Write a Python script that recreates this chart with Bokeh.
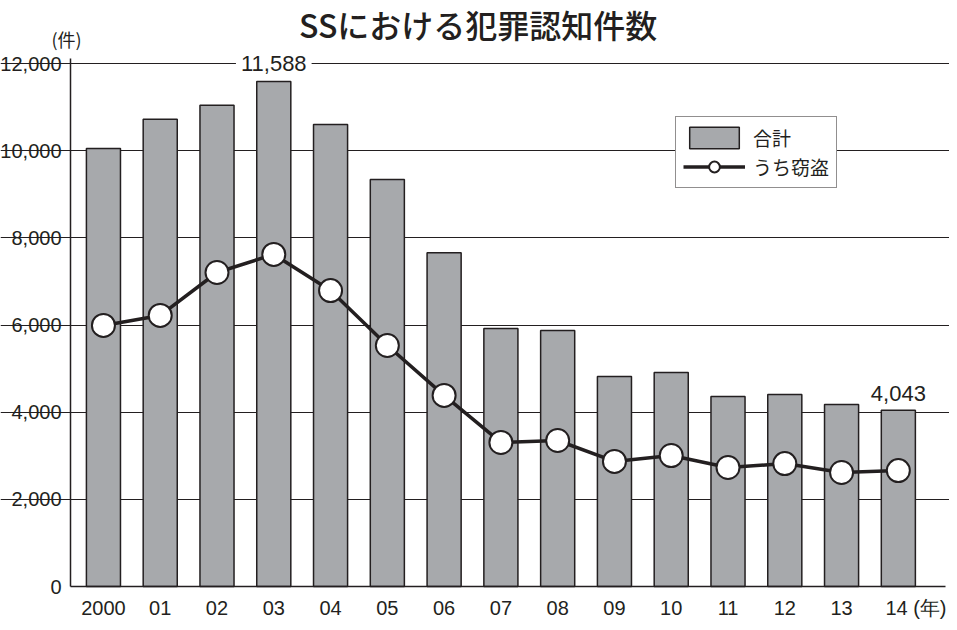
from bokeh.plotting import figure
from bokeh.models import (FixedTicker, NumeralTickFormatter, Label, Legend, LegendItem,
                          ColumnDataSource, Range1d)
from bokeh.core.properties import value
from bokeh.embed import file_html
from bokeh.resources import INLINE

# ---- data ----
years = ["2000", "01", "02", "03", "04", "05", "06", "07", "08", "09", "10", "11", "12", "13", "14"]
total = [10050, 10720, 11040, 11588, 10600, 9340, 7660, 5920, 5875, 4820, 4910, 4360, 4405, 4175, 4043]
theft = [5990, 6220, 7205, 7620, 6790, 5530, 4385, 3305, 3350, 2870, 3005, 2730, 2820, 2615, 2660]
y_ticks = [0, 2000, 4000, 6000, 8000, 10000, 12000]

INK = "#231f20"
BAR = "#a7a9ac"
NUM_FONT = "Liberation Sans"
JP_FONT = "Noto Sans CJK JP"
JP_MED = "'Noto Sans CJK JP Medium', 'Noto Sans CJK JP'"

X0, X1 = -0.58, 14.83          # visible category span (axis / grid extent)
xs = list(range(len(years)))
src = ColumnDataSource(dict(x=xs, total=total, theft=theft))

p = figure(frame_width=949, frame_height=622, output_backend="svg", toolbar_location=None,
           x_range=Range1d(-1.813, 14.901), y_range=Range1d(-826, 13446),
           min_border_left=0, min_border_right=0, min_border_top=0, min_border_bottom=0)
p.outline_line_color = None
p.background_fill_color = "white"

# y axis drawn at the left end of the category span
p.yaxis.fixed_location = X0
p.yaxis.bounds = (0, 12115)
p.yaxis.ticker = FixedTicker(ticks=y_ticks)
p.yaxis.formatter = NumeralTickFormatter(format="0,0")
p.yaxis.major_tick_line_color = None
p.yaxis.minor_tick_line_color = None
p.yaxis.major_tick_out = 0
p.yaxis.axis_line_color = INK
p.yaxis.axis_line_width = 1.5
p.yaxis.major_label_text_font = NUM_FONT
p.yaxis.major_label_text_font_size = "20px"
p.yaxis.major_label_text_color = INK
p.yaxis.major_label_standoff = 9

# x axis drawn at y = 0
last = len(years) - 1
year_pos = xs[:-1] + [last + 0.31]
p.xaxis.fixed_location = 0
p.xaxis.bounds = (X0, X1)
p.xaxis.ticker = FixedTicker(ticks=year_pos)
overrides = {i: y for i, y in enumerate(years[:-1])}
overrides[last + 0.31] = years[-1] + " (年)"
p.xaxis.major_label_overrides = overrides
p.xaxis.major_tick_line_color = None
p.xaxis.minor_tick_line_color = None
p.xaxis.major_tick_out = 0
p.xaxis.axis_line_color = INK
p.xaxis.axis_line_width = 1.5
p.xaxis.major_label_text_font = NUM_FONT
p.xaxis.major_label_text_font_size = "20px"
p.xaxis.major_label_text_color = INK
p.xaxis.major_label_standoff = 10

p.xgrid.grid_line_color = None
p.ygrid.ticker = FixedTicker(ticks=y_ticks[1:])
p.ygrid.bounds = (X0, X1)
p.ygrid.grid_line_color = INK
p.ygrid.grid_line_width = 1.2

# glyphs
bars = p.vbar(x="x", top="total", width=0.6, source=src, fill_color=BAR,
              line_color=INK, line_width=1.5)
ln = p.line(x="x", y="theft", source=src, line_color=INK, line_width=3.5)
pts = p.scatter(x="x", y="theft", source=src, size=23, marker="circle",
                fill_color="white", line_color=INK, line_width=2)

# annotations
p.add_layout(Label(x=3, y=12000, text="11,588", text_align="center", text_baseline="middle",
                   text_font=NUM_FONT, text_font_size="22px", text_color=INK,
                   background_fill_color="white", padding=5))
p.add_layout(Label(x=14, y=total[-1], y_offset=9, text="4,043", text_align="center",
                   text_baseline="bottom", text_font=NUM_FONT, text_font_size="22px",
                   text_color=INK))
p.add_layout(Label(x=-0.65, y=12574, text="(件)", text_align="center", text_baseline="middle",
                   text_font=JP_FONT, text_font_size="18px", text_color=INK))
p.add_layout(Label(x=6.60, y=12918, text="SSにおける犯罪認知件数", text_align="center",
                   text_baseline="middle", text_font=JP_MED, text_font_size="32px",
                   text_color=INK))

legend = Legend(items=[LegendItem(label="合計", renderers=[bars]),
                       LegendItem(label="うち窃盗", renderers=[ln, pts])],
                location=(675, 434), orientation="vertical",
                glyph_width=62, glyph_height=27,
                label_text_font=JP_FONT, label_text_font_size="19px", label_text_color=INK,
                border_line_color=INK, border_line_width=1.5,
                background_fill_color="white", background_fill_alpha=1.0,
                padding=7, spacing=2, label_standoff=8, margin=0)
p.add_layout(legend)

open("out.html", "w").write(file_html(p, INLINE))
